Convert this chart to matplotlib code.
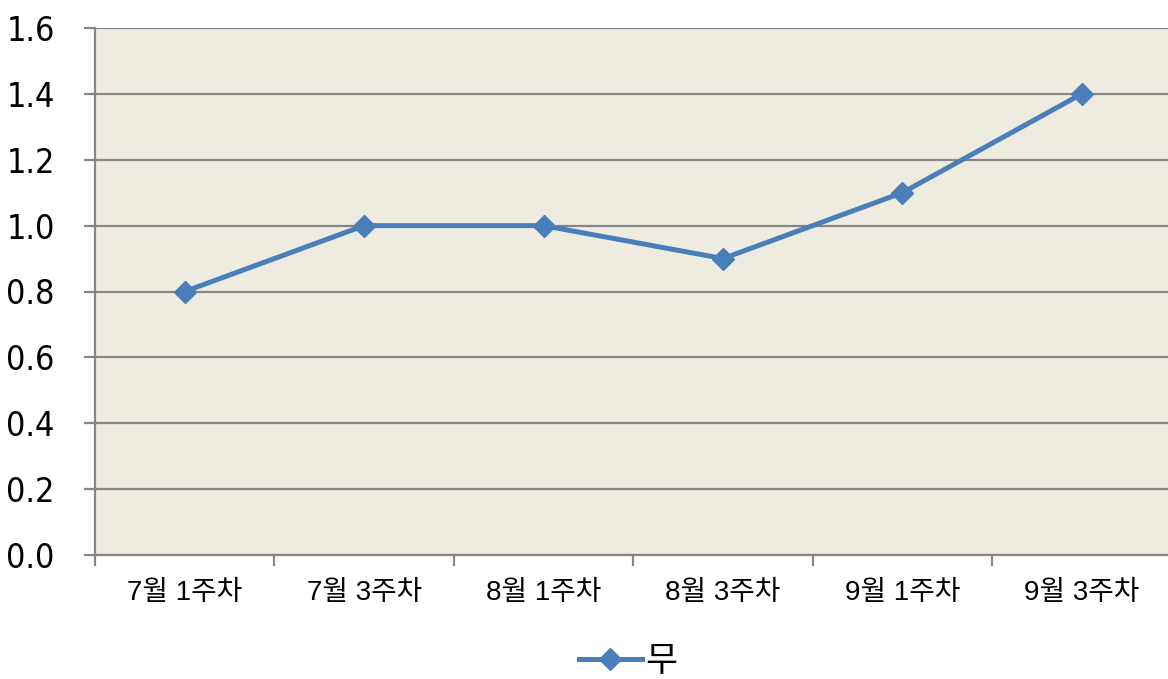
import matplotlib
matplotlib.use("Agg")
import matplotlib.pyplot as plt
from matplotlib import font_manager as fm

categories = ["7월 1주차", "7월 3주차", "8월 1주차", "8월 3주차", "9월 1주차", "9월 3주차"]
values = [0.8, 1.0, 1.0, 0.9, 1.1, 1.4]
series_name = "무"
yticks = [0.0, 0.2, 0.4, 0.6, 0.8, 1.0, 1.2, 1.4, 1.6]

# look for a narrow/condensed latin face, the original uses one
narrow_path = None
for f in fm.fontManager.ttflist:
    if f.style != "normal" or f.weight not in (400, "normal", "regular"):
        continue
    if "Narrow" in f.name or "Condensed" in f.name or f.stretch in ("condensed", "semi-condensed"):
        if any(k in f.name for k in ("Liberation", "DejaVu", "Noto Sans", "Roboto", "Open Sans")):
            narrow_path = f.fname
            break

plt.rcParams["font.family"] = ["Liberation Sans", "Noto Sans CJK KR", "DejaVu Sans"]

line_color = "#4A7EBB"
grid_color = "#868686"

fig = plt.figure(figsize=(11.68, 6.79), dpi=100)
ax = fig.add_axes([95 / 1168, 1 - 555 / 679, 1 - 95 / 1168 + 0.003, (555 - 28) / 679])
ax.set_facecolor("#EEECE1")

x = list(range(len(categories)))
ax.plot(x, values, color=line_color, linewidth=3.6, marker="D", markersize=11,
        markeredgecolor=line_color, markerfacecolor=line_color, label=series_name,
        zorder=3)

ax.set_xlim(-0.5, len(categories) - 0.5)
ax.set_ylim(0, 1.6)
ax.set_yticks(yticks)
if narrow_path:
    yfont = fm.FontProperties(fname=narrow_path, size=24.5)
    ax.set_yticklabels([f"{v:.1f}" for v in yticks], fontproperties=yfont)
else:
    ax.set_yticklabels([f"{v:.1f}" for v in yticks], fontsize=22)
ax.yaxis.grid(True, color=grid_color, linewidth=1.6)
ax.set_axisbelow(True)

ax.set_xticks(x)
ax.set_xticklabels(categories, fontsize=20)
ax.set_xticks([i - 0.5 for i in range(len(categories) + 1)], minor=True)
ax.tick_params(axis="x", which="major", length=0, pad=18)
ax.tick_params(axis="x", which="minor", length=8, width=1.6, color=grid_color)
ax.tick_params(axis="y", length=8, width=1.6, color=grid_color, pad=21)

for side in ["top", "right"]:
    ax.spines[side].set_visible(False)
for side in ["left", "bottom"]:
    ax.spines[side].set_color(grid_color)
    ax.spines[side].set_linewidth(1.6)

fig.legend(loc="center", bbox_to_anchor=(628 / 1168, 1 - 662 / 679), frameon=False,
           fontsize=25, handlelength=1.8, handletextpad=0.1)

fig.savefig("out.png", dpi=100)
